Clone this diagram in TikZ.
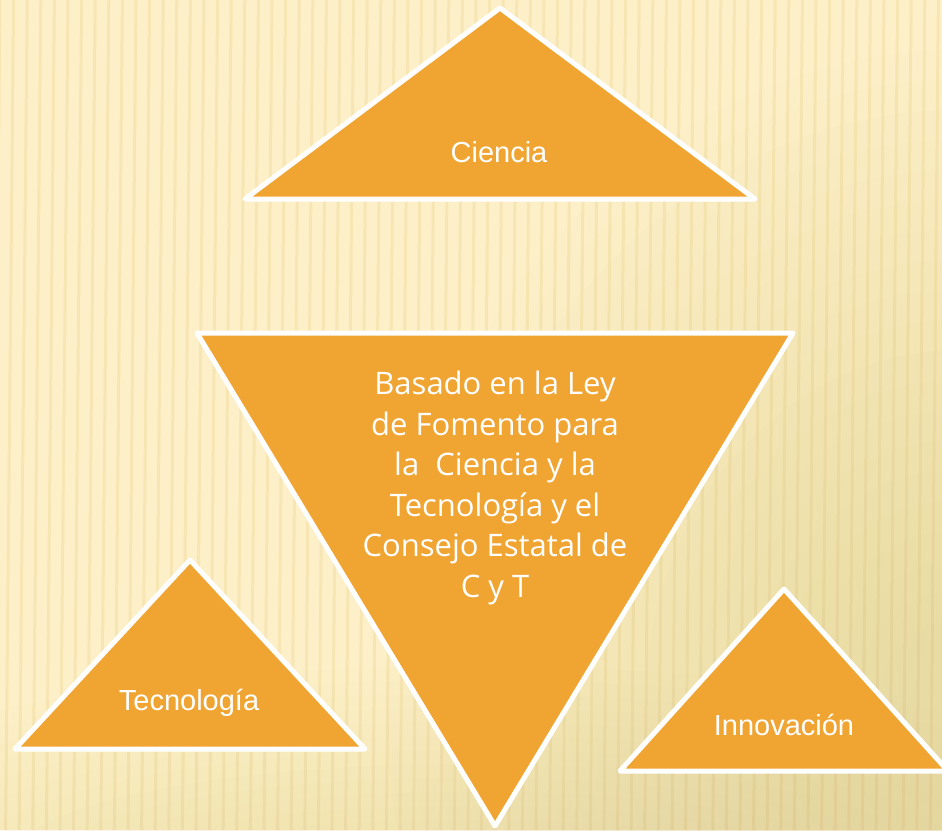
\documentclass[tikz,border=0pt]{standalone}
\usepackage{fontspec}
\setmainfont{Liberation Sans}
\newfontfamily\labelfont{Liberation Sans}
\newfontfamily\bodyfont{Open Sans}
\definecolor{bgbase}{HTML}{FDF0C8}
\definecolor{bgstripe}{HTML}{F5E1A8}
\definecolor{bgdark}{HTML}{E2C47E}
\definecolor{triorange}{HTML}{F0A431}
\tikzset{
  tri/.style={fill=triorange, draw=white, line width=5pt, line join=round},
  lbl/.style={text=white, font=\labelfont\fontsize{29}{32}\selectfont, inner sep=0pt},
  bodytxt/.style={text=white, font=\bodyfont\fontsize{31}{40.5}\selectfont, align=center, inner sep=0pt},
}
\begin{document}
\begin{tikzpicture}[x=1pt,y=-1pt]
\useasboundingbox (0,0) rectangle (942,830);
\clip (0,0) rectangle (942,830);
% background
\fill[bgbase] (0,0) rectangle (942,830);
\foreach \i in {0,...,75}{
  \draw[bgstripe, line width=3pt, opacity=0.65] (\i*13.6,0) -- (\i*13.6-8,830);
}
\foreach \i in {0,...,19}{
  \fill[bgdark, fill opacity=0.022] (960,700) ellipse ({80+\i*26} and {80+\i*30});
}
\foreach \i in {0,...,11}{
  \fill[bgdark, fill opacity=0.018] (470,860) ellipse ({300+\i*40} and {40+\i*14});
}
% Ciencia
\coordinate (ca) at (500,8);
\coordinate (cl) at (245,199);
\coordinate (cr) at (755,199);
\draw[tri] (ca) -- (cr) -- (cl) -- cycle;
\node[lbl] (ciencia) at (499,152) {Ciencia};
% central inverted triangle
\coordinate (ml) at (197,333);
\coordinate (mr) at (793,333);
\coordinate (mb) at (495,826);
\draw[tri] (ml) -- (mr) -- (mb) -- cycle;
\node[bodytxt, anchor=north] (centro) at (495,371) {Basado en la Ley\\de Fomento para\\la\ \ Ciencia y la\\Tecnología y el\\Consejo Estatal de\\C y T};
% Tecnologia
\coordinate (ta) at (190,560);
\coordinate (tl) at (15,749);
\coordinate (tr) at (365,749);
\draw[tri] (ta) -- (tr) -- (tl) -- cycle;
\node[lbl] (tecnologia) at (189,703) {Tecnología};
% Innovacion
\coordinate (ia) at (784,589);
\coordinate (il) at (620,771);
\coordinate (ir) at (948,771);
\draw[tri] (ia) -- (ir) -- (il) -- cycle;
\node[lbl] (innovacion) at (784,725) {Innovación};
\end{tikzpicture}
\end{document}
